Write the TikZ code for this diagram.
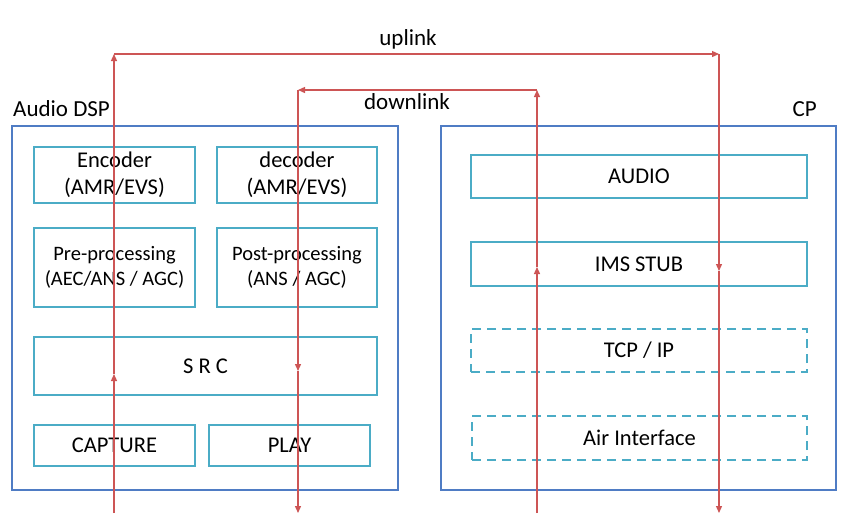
\documentclass[tikz,border=0pt]{standalone}
\usepackage{fontspec}
\setmainfont{Carlito}
\usetikzlibrary{arrows.meta}
\definecolor{outerblue}{RGB}{79,124,196}
\definecolor{teal}{RGB}{75,172,198}
\definecolor{redline}{RGB}{205,85,85}
\begin{document}
\begin{tikzpicture}[x=1pt,y=-1pt,
  outerbox/.style={draw=outerblue,line width=1.8pt,inner sep=0pt,outer sep=0pt},
  innerbox/.style={draw=teal,line width=2.2pt,inner sep=0pt,outer sep=0pt,align=center,font=\fontsize{22.5}{27}\selectfont},
  dashbox/.style={innerbox,dash pattern=on 9pt off 6pt},
  lbl/.style={inner sep=0pt,font=\fontsize{23}{27}\selectfont},
  flow/.style={draw=redline,line width=1.3pt,-{Triangle[length=7pt,width=6pt]}}
]
\useasboundingbox (0,0) rectangle (863,531);
\fill[white] (0,0) rectangle (863,531);
% outer boxes
\node[outerbox,minimum width=386pt,minimum height=364pt] (dsp) at (205,308) {};
\node[outerbox,minimum width=395pt,minimum height=364pt] (cp) at (638.5,308) {};
\node[lbl,anchor=base west] (dsplbl) at (13,116) {Audio DSP};
\node[lbl,anchor=base east] (cplbl) at (817,116) {CP};
% DSP inner boxes
\node[innerbox,minimum width=161pt,minimum height=56pt] (enc) at (114.5,175) {Encoder\\(AMR/EVS)};
\node[innerbox,minimum width=160pt,minimum height=56pt] (dec) at (297,175) {decoder\\(AMR/EVS)};
\node[innerbox,minimum width=161pt,minimum height=79pt,font=\fontsize{20.5}{25}\selectfont] (pre) at (114.5,267.5) {Pre-processing\\(AEC/ANS / AGC)};
\node[innerbox,minimum width=160pt,minimum height=79pt,font=\fontsize{20.5}{25}\selectfont] (post) at (297,267.5) {Post-processing\\(ANS / AGC)};
\node[innerbox,minimum width=343pt,minimum height=58pt] (src) at (205.5,366) {S R C};
\node[innerbox,minimum width=161pt,minimum height=41pt] (capt) at (114.5,445.5) {CAPTURE};
\node[innerbox,minimum width=161pt,minimum height=41pt] (play) at (289.5,445.5) {PLAY};
% CP inner boxes
\node[innerbox,minimum width=336pt,minimum height=43pt] (audio) at (639,176.5) {AUDIO};
\node[innerbox,minimum width=336pt,minimum height=44pt] (ims) at (639,264) {IMS STUB};
\node[dashbox,minimum width=336pt,minimum height=43pt] (tcp) at (639,350.5) {TCP / IP};
\node[dashbox,minimum width=335pt,minimum height=44pt] (air) at (639.5,438) {Air Interface};
% labels of flows
\node[lbl,anchor=base] (uplbl) at (408,45) {uplink};
\node[lbl,anchor=base] (downlbl) at (407,109) {downlink};
% uplink coordinates
\coordinate (u0) at (114,513);
\coordinate (u1) at (114,374);
\coordinate (u2) at (114,54);
\coordinate (u3) at (719,54);
\coordinate (u4) at (719,271);
\coordinate (u5) at (719,513);
\draw[flow] (u0) -- (u1);
\draw[flow] (u1) -- (u2);
\draw[flow] (u2) -- (u3);
\draw[flow] (u3) -- (u4);
\draw[flow] (u4) -- (u5);
% downlink coordinates
\coordinate (d0) at (537,513);
\coordinate (d1) at (537,267);
\coordinate (d2) at (537,90);
\coordinate (d3) at (298,90);
\coordinate (d4) at (298,371);
\coordinate (d5) at (298,513);
\draw[flow] (d0) -- (d1);
\draw[flow] (d1) -- (d2);
\draw[flow] (d2) -- (d3);
\draw[flow] (d3) -- (d4);
\draw[flow] (d4) -- (d5);
\end{tikzpicture}
\end{document}
